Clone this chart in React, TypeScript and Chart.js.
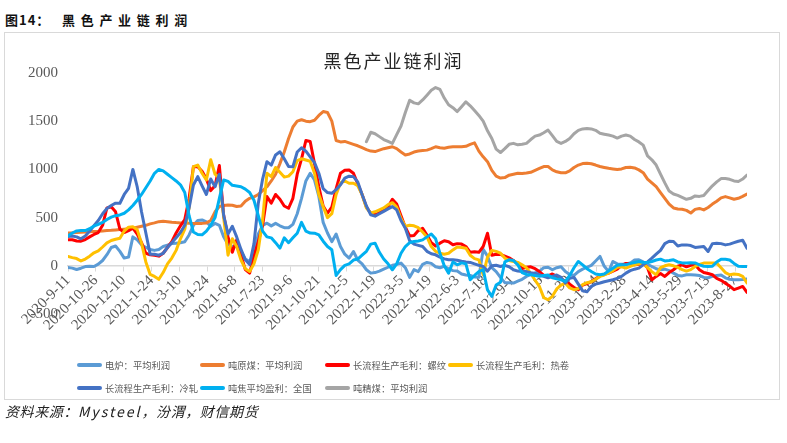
import React, { useEffect, useRef } from "react";
import { Chart, registerables } from "chart.js";

Chart.register(...registerables);

// Weekly observations; week 0 is 2020-9-11. x values are days since that date.
const WEEK_COUNT = 158;
const DAY_OFFSETS = Array.from({ length: WEEK_COUNT }, (_, i) => i * 7);

// Date axis labels, one every 45 days starting at 2020-9-11
const TICK_STEP_DAYS = 45;
const TICK_LABELS = [
  "2020-9-11", "2020-10-26", "2020-12-10", "2021-1-24", "2021-3-10",
  "2021-4-24", "2021-6-8", "2021-7-23", "2021-9-6", "2021-10-21",
  "2021-12-5", "2022-1-19", "2022-3-5", "2022-4-19", "2022-6-3",
  "2022-7-18", "2022-9-1", "2022-10-16", "2022-11-30", "2023-1-14",
  "2023-2-28", "2023-4-14", "2023-5-29", "2023-7-13", "2023-8-27",
];
const TICK_DAYS = TICK_LABELS.map((_, i) => i * TICK_STEP_DAYS);

const Y_TICKS = [-500, 0, 500, 1000, 1500, 2000];

// 电炉：平均利润
const EAF_PROFIT = [
  -17, -24, -38, -25, -8, -5, -7, 17, 55, 115,
  190, 205, 150, 80, 90, 300, 270, 217, 190, 170,
  160, 170, 200, 215, 230, 235, 240, 250, 320, 420,
  470, 476, 455, 410, 440, 420, 300, 220, 200, 200,
  150, 70, 45, 130, 330, 420, 442, 414, 440, 415,
  395, 395, 430, 540, 700, 880, 960, 890, 720, 450,
  340, 250, 330, 200, 120, 80, 148, 60, 20, -41,
  -76, -70, -55, -35, -15, 5, 15, 28, -20, -120,
  -40, -60, 15, 35, 25, -10, -20, -5, -30, -50,
  -55, -85, -95, -100, -115, -120, 170, 100, -20, -60,
  -120, -175, -175, -179, -160, -140, -110, -90, -75, -59,
  -20, -15, -41, -20, -10, -60, -90, -100, -60, -35,
  -15, 5, 50, 97, -5, -59, 45, 20, 15, 20,
  28, 60, 62, 40, 15, -7, -30, -41, -35, -50,
  -76, -100, -105, -93, -93, -95, -100, -120, -125, -110,
  -100, -95, -125, -140, -145, -145, -142, -138,
];

// 吨原煤：平均利润
const RAW_COAL_PROFIT = [
  340, 342, 345, 347, 350, 352, 355, 358, 362, 365,
  368, 372, 376, 380, 385, 390, 400, 410, 420, 435,
  445, 458, 462, 458, 452, 448, 445, 445, 442, 440,
  438, 440, 445, 470, 560, 615, 625, 630, 628, 615,
  620, 670, 700, 715, 740, 780, 820, 880, 950, 1060,
  1180, 1320, 1440, 1500, 1515, 1500, 1495, 1510, 1560, 1600,
  1590, 1500, 1300, 1285, 1290, 1275, 1260, 1245, 1225, 1205,
  1190, 1185, 1200, 1215, 1225, 1235, 1215, 1180, 1150, 1160,
  1180, 1190, 1195, 1200, 1215, 1235, 1225, 1220, 1230, 1235,
  1235, 1235, 1240, 1260, 1275, 1190, 1130, 1080, 990, 930,
  910, 915, 940, 950, 960, 958, 962, 970, 990, 1010,
  1030, 1030, 995, 975, 965, 965, 985, 1020, 1045, 1060,
  1063, 1058, 1045, 1030, 1020, 1011, 1005, 1000, 1005, 1020,
  1022, 1015, 995, 966, 900, 860, 821, 760, 700, 640,
  600, 590, 587, 575, 548, 585, 595, 580, 605, 640,
  670, 705, 718, 705, 690, 700, 720, 745,
];

// 长流程生产毛利：螺纹
const REBAR_MARGIN = [
  269, 270, 258, 255, 272, 300, 325, 345, 420, 600,
  612, 560, 380, 345, 365, 390, 330, 240, 130, 114,
  110, 100, 130, 190, 250, 340, 415, 480, 700, 1028,
  1028, 980, 900, 780, 830, 1040, 520, 300, 140, 269,
  110, -40, -76, 100, 250, 420, 718, 650, 740, 690,
  620, 597, 700, 950, 1110, 1300, 1290, 1060, 820, 620,
  545, 610, 800, 960, 990, 994, 960, 850, 740, 610,
  545, 528, 548, 580, 610, 690, 640, 520, 400, 310,
  315, 365, 390, 320, 240, 205, 235, 260, 250, 218,
  230, 225, 200, 140, 145, 140, 200, 338, 110, 120,
  118, 100, 82, 55, 20, -30, -15, -10, -30, -60,
  -100, -105, -85, -110, -135, -160, -190, -225, -248, -200,
  -185, -165, -135, -105, -88, -76, -55, -35, 5, 25,
  25, 10, 15, 28, -20, -145, -110, -80, -110, -70,
  -41, -5, 10, -10, 5, 10, -40, -70, -80, -93,
  -130, -150, -180, -210, -248, -231, -214, -276,
];

// 长流程生产毛利：热卷
const HRC_MARGIN = [
  97, 85, 75, 50, 70, 100, 135, 155, 195, 238,
  262, 275, 286, 360, 400, 405, 375, 235, 40, -90,
  -110, -140, -70, 20, 80, 160, 280, 380, 600, 1028,
  1045, 960, 890, 1100, 950, 910, 500, 110, 280, 200,
  60, -30, -59, 20, 166, 480, 960, 925, 1020, 970,
  920, 930, 976, 1090, 1110, 1097, 1085, 960, 740, 614,
  500, 540, 740, 860, 880, 856, 856, 830, 740, 600,
  548, 560, 580, 600, 635, 655, 610, 490, 410, 420,
  415, 395, 350, 300, 200, 150, 131, 120, 130, 165,
  195, 190, 183, 110, 75, 62, -93, 90, 160, 150,
  131, 80, 55, 45, 35, 10, -20, -80, -150, -214,
  -330, -352, -317, -240, -200, -180, -230, -248, -235, -195,
  -175, -165, -140, -110, -95, -76, -50, -15, -10, -24,
  -5, 10, 20, 28, -20, -60, -93, -20, 0, 10,
  0, -15, -40, -55, -40, -7, 15, 28, 30, 28,
  28, -20, -70, -93, -85, -90, -110, -179,
];

// 长流程生产毛利：冷轧
const CRC_MARGIN = [
  304, 310, 300, 280, 310, 360, 415, 470, 540, 595,
  625, 650, 649, 740, 804, 1000, 820, 560, 340, 120,
  120, 110, 130, 190, 240, 290, 345, 420, 600, 838,
  925, 830, 740, 900, 821, 950, 520, 330, 410, 300,
  170, 62, 15, 230, 650, 900, 1080, 1045, 1150, 1183,
  1110, 1030, 1028, 1180, 1225, 1190, 1130, 1070, 960, 800,
  760, 752, 790, 840, 910, 930, 925, 870, 740, 620,
  530, 515, 540, 565, 590, 614, 580, 470, 390, 260,
  225, 212, 200, 150, 125, 114, 90, 72, 62, 62,
  58, 48, 40, 35, 20, 5, -7, -55, 0, 5,
  -7, 5, -10, -41, -55, -59, -60, -72, -80, -93,
  -110, -125, -110, -95, -120, -179, -130, -120, -190, -260,
  -270, -214, -190, -179, -165, -155, -145, -130, -110, -76,
  -50, -35, -24, 10, 40, 79, 120, 160, 230, 255,
  252, 205, 217, 217, 210, 190, 195, 200, 148, 230,
  235, 230, 217, 225, 240, 255, 265, 183,
];

// 吨焦平均盈利：全国
const COKE_PROFIT = [
  311, 340, 362, 366, 366, 385, 412, 430, 450, 480,
  505, 520, 528, 545, 580, 625, 680, 740, 810, 880,
  960, 1000, 985, 950, 915, 880, 840, 760, 520, 350,
  325, 321, 360, 420, 500, 700, 890, 875, 835, 828,
  820, 795, 760, 680, 520, 360, 300, 290, 240, 183,
  290, 240, 290, 338, 450, 360, 340, 338, 320, 255,
  200, 166, -100, -40, 5, 20, 60, 70, 110, 150,
  225, 235, 140, 70, 20, -41, 20, 130, 200, 240,
  252, 258, 269, 300, 330, 280, 130, 0, -76, 40,
  10, 30, 20, -145, -100, -60, -40, -250, -317, -200,
  -170, 40, 62, 55, 10, -70, -90, -93, -100, -110,
  -100, -95, -125, -135, -145, -162, -100, -20, 45, 10,
  -30, -59, -85, -93, -85, -55, -25, 5, 10, 10,
  25, 35, 45, 35, 35, 45, 60, 69, 50, 55,
  62, 40, 30, 28, 32, 30, 10, -5, -7, -5,
  40, 69, 68, 60, 25, -5, -7, -7,
];

// 吨精煤：平均利润 (series begins at week 69)
const CLEAN_COAL_START_WEEK = 69;
const CLEAN_COAL_PROFIT = [
  1287, 1385, 1370, 1340, 1310, 1290, 1270, 1360, 1450, 1590, 1718,
  1690, 1680, 1720, 1770, 1820, 1849, 1830, 1740, 1670, 1640,
  1600, 1650, 1701, 1660, 1610, 1560, 1500, 1400, 1320, 1210,
  1175, 1215, 1260, 1270, 1255, 1260, 1270, 1310, 1345, 1356,
  1380, 1408, 1350, 1290, 1270, 1290, 1321, 1370, 1405, 1420,
  1425, 1420, 1405, 1375, 1365, 1356, 1345, 1325, 1345, 1356,
  1345, 1310, 1285, 1252, 1140, 1100, 1045, 950, 860, 775,
  745, 730, 710, 690, 700, 725, 720, 730, 780, 830,
  870, 905, 905, 897, 880, 875, 900, 942,
];

const SERIES = [
  { name: "电炉：平均利润", color: "#5B9BD5", values: EAF_PROFIT, start: 0 },
  { name: "吨原煤：平均利润", color: "#ED7D31", values: RAW_COAL_PROFIT, start: 0 },
  { name: "长流程生产毛利：螺纹", color: "#FF0000", values: REBAR_MARGIN, start: 0 },
  { name: "长流程生产毛利：热卷", color: "#FFC000", values: HRC_MARGIN, start: 0 },
  { name: "长流程生产毛利：冷轧", color: "#4472C4", values: CRC_MARGIN, start: 0 },
  { name: "吨焦平均盈利：全国", color: "#00B0F0", values: COKE_PROFIT, start: 0 },
  { name: "吨精煤：平均利润", color: "#A5A5A5", values: CLEAN_COAL_PROFIT, start: CLEAN_COAL_START_WEEK },
];

// legend grid: 4 columns, 2 rows
const LEGEND_COLS = [77, 200, 325, 448];
const LEGEND_ROWS = [365, 388];

const AXIS_FONT = "'Liberation Serif', 'Times New Roman', serif";
const CJK_FONT = "'Noto Sans CJK SC', 'Noto Sans', sans-serif";

export default function App() {
  const canvasRef = useRef<HTMLCanvasElement>(null);

  useEffect(() => {
    const canvas = canvasRef.current;
    if (!canvas) return;
    const n = SERIES.length;
    const chart = new Chart(canvas, {
      type: "line",
      data: {
        datasets: SERIES.map((s, i) => ({
          label: s.name,
          data: s.values.map((v, k) => ({ x: DAY_OFFSETS[k + s.start], y: v })),
          borderColor: s.color,
          backgroundColor: s.color,
          borderWidth: 3,
          pointRadius: 0,
          pointHoverRadius: 0,
          tension: 0,
          fill: false,
          borderJoinStyle: "round" as const,
          borderCapStyle: "round" as const,
          order: n - i,
        })),
      },
      options: {
        animation: false,
        responsive: false,
        maintainAspectRatio: false,
        events: [],
        layout: { padding: { left: 8, right: 40, top: 73, bottom: 129 } },
        plugins: {
          legend: { display: false },
          title: { display: false },
          tooltip: { enabled: false },
        },
        scales: {
          x: {
            type: "linear",
            position: { y: 0 } as any,
            min: 0,
            max: DAY_OFFSETS[WEEK_COUNT - 1],
            afterBuildTicks: (scale: any) => {
              scale.ticks = TICK_DAYS.map((v) => ({ value: v }));
            },
            ticks: {
              autoSkip: false,
              minRotation: 45,
              maxRotation: 45,
              padding: 1,
              color: "#595959",
              font: { family: AXIS_FONT, size: 15 },
              callback: (value: any) => {
                const idx = TICK_DAYS.indexOf(Number(value));
                return idx >= 0 ? TICK_LABELS[idx] : "";
              },
            },
            grid: {
              drawOnChartArea: false,
              drawTicks: true,
              tickLength: 5,
              color: "#D9D9D9",
              lineWidth: 1,
            },
            border: { display: true, color: "#D9D9D9", width: 1.5 },
          },
          y: {
            type: "linear",
            min: Y_TICKS[0],
            max: Y_TICKS[Y_TICKS.length - 1],
            afterBuildTicks: (scale: any) => {
              scale.ticks = Y_TICKS.map((v) => ({ value: v }));
            },
            afterFit: (scale: any) => {
              scale.width = 60;
            },
            ticks: {
              padding: 10,
              color: "#595959",
              font: { family: AXIS_FONT, size: 15 },
              callback: (value: any) => String(value),
            },
            grid: { display: false, drawTicks: false },
            border: { display: false },
          },
        },
      },
    });
    return () => chart.destroy();
  }, []);

  return (
    <div
      style={{
        position: "absolute",
        left: 0,
        top: 0,
        width: 787,
        height: 443,
        background: "#ffffff",
        overflow: "hidden",
        fontFamily: CJK_FONT,
      }}
    >
      <div
        style={{
          position: "absolute",
          left: 5,
          top: 11,
          fontSize: 13,
          lineHeight: "17px",
          fontWeight: 700,
          color: "#111",
          whiteSpace: "nowrap",
        }}
      >
        <span style={{ letterSpacing: 1 }}>图14：</span>
        <span style={{ position: "absolute", left: 57, top: 0, letterSpacing: 5.7 }}>黑色产业链利润</span>
      </div>

      <div
        style={{
          position: "absolute",
          left: 4,
          top: 32,
          width: 774,
          height: 366,
          border: "1px solid #D9D9D9",
        }}
      />

      <canvas
        ref={canvasRef}
        width={787}
        height={443}
        style={{ position: "absolute", left: 0, top: 0, width: 787, height: 443 }}
      />

      <div
        style={{
          position: "absolute",
          left: 0,
          width: 787,
          top: 48,
          textAlign: "center",
          fontSize: 18,
          lineHeight: "24px",
          letterSpacing: 2,
          color: "#262626",
        }}
      >
        黑色产业链利润
      </div>

      {SERIES.map((s, i) => {
        const col = LEGEND_COLS[i % 4];
        const row = LEGEND_ROWS[Math.floor(i / 4)];
        return (
          <div key={s.name}>
            <div
              style={{
                position: "absolute",
                left: col,
                top: row - 2,
                width: 25,
                height: 4,
                borderRadius: 2,
                background: s.color,
              }}
            />
            <div
              style={{
                position: "absolute",
                left: col + 28,
                top: row - 8,
                fontSize: 9.3,
                lineHeight: "16px",
                color: "#595959",
                whiteSpace: "nowrap",
              }}
            >
              {s.name}
            </div>
          </div>
        );
      })}

      <div
        style={{
          position: "absolute",
          left: 5,
          top: 402,
          fontSize: 14,
          lineHeight: "18px",
          fontStyle: "italic",
          color: "#222",
          letterSpacing: 0.6,
          whiteSpace: "nowrap",
        }}
      >
        资料来源：<span style={{ letterSpacing: 2 }}>Mysteel</span>，汾渭，财信期货
      </div>
    </div>
  );
}
